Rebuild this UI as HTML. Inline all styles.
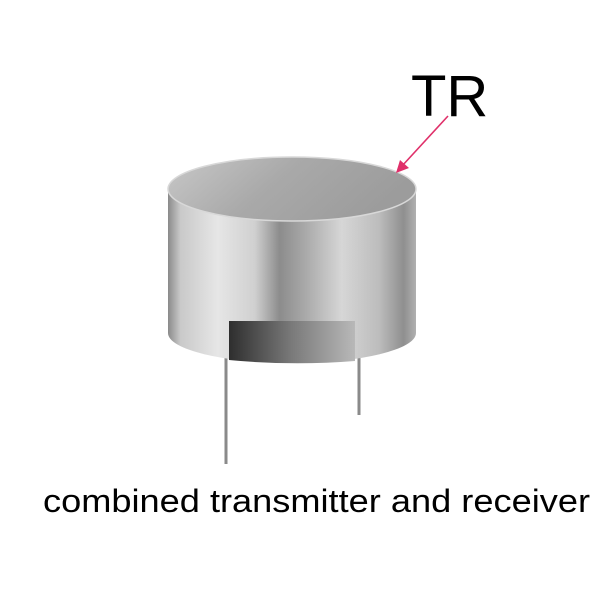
<!DOCTYPE html>
<html><head><meta charset="utf-8"><style>
html,body{margin:0;padding:0;background:#fff;width:600px;height:600px;overflow:hidden}
</style></head><body>
<svg width="600" height="600" viewBox="0 0 600 600" xmlns="http://www.w3.org/2000/svg">
<defs>
<linearGradient id="body" x1="0" x2="1" y1="0" y2="0">
<stop offset="0" stop-color="#8a8a8a"/>
<stop offset="0.05" stop-color="#c9c9c9"/>
<stop offset="0.2" stop-color="#e6e6e6"/>
<stop offset="0.35" stop-color="#d0d0d0"/>
<stop offset="0.45" stop-color="#8c8c8c"/>
<stop offset="0.55" stop-color="#a8a8a8"/>
<stop offset="0.7" stop-color="#d6d6d6"/>
<stop offset="0.85" stop-color="#bdbdbd"/>
<stop offset="0.95" stop-color="#8f8f8f"/>
<stop offset="1" stop-color="#b0b0b0"/>
</linearGradient>
<linearGradient id="top" x1="0" x2="1" y1="0" y2="0.3">
<stop offset="0" stop-color="#c8c8c8"/>
<stop offset="0.5" stop-color="#a9a9a9"/>
<stop offset="1" stop-color="#9c9c9c"/>
</linearGradient>
<linearGradient id="win" x1="0" x2="1" y1="0" y2="0">
<stop offset="0" stop-color="#2e2e2e"/>
<stop offset="0.5" stop-color="#7a7a7a"/>
<stop offset="1" stop-color="#b8b8b8"/>
</linearGradient>
</defs>
<!-- pins -->
<rect x="224.5" y="350" width="3" height="114" fill="#8a8a8a"/>
<rect x="357.5" y="355" width="3" height="60" fill="#8a8a8a"/>
<!-- body -->
<path d="M168 190 L168 333 A124 30 0 0 0 416 333 L416 190 Z" fill="url(#body)"/>
<!-- top -->
<ellipse cx="292" cy="189" rx="124" ry="32" fill="url(#top)" stroke="#d8d8d8" stroke-width="1.5"/>
<!-- window -->
<path d="M229 321 L355 321 L355 361 Q292 366 229 360 Z" fill="url(#win)"/>
<!-- arrow -->
<line x1="448" y1="116" x2="402" y2="166" stroke="#e0306a" stroke-width="1.6"/>
<polygon points="396,173 400,160 409,168" fill="#e0306a"/>
<text x="411" y="116" font-family="Liberation Sans, sans-serif" font-size="58" fill="#000">TR</text>
<text x="43" y="512" font-family="Liberation Sans, sans-serif" font-size="32" fill="#000" textLength="547" lengthAdjust="spacingAndGlyphs">combined transmitter and receiver</text>
</svg>
</body></html>
